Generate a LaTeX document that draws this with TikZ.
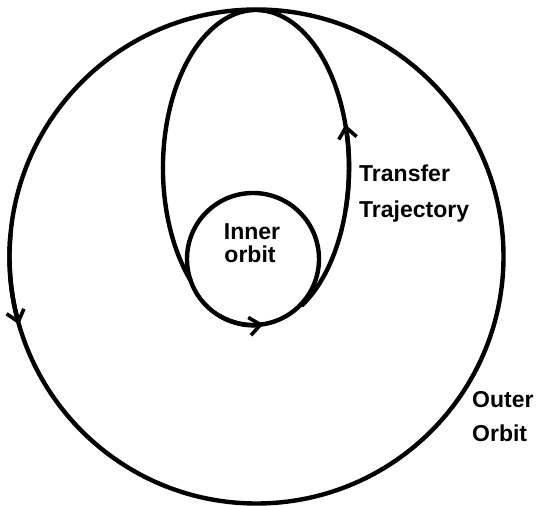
\documentclass[tikz,border=0pt]{standalone}
\usepackage{fontspec}
\setmainfont{Liberation Sans}
\usetikzlibrary{arrows.meta}
\begin{document}
\begin{tikzpicture}[x=1pt,y=1pt, line width=4.4pt, line cap=round, line join=round,
  lbl/.style={font=\bfseries\fontsize{23}{26}\selectfont, inner sep=0pt},
  tip/.style={-{Straight Barb[length=11pt,width=18pt,line width=3.6pt]}}]
\useasboundingbox (0,0) rectangle (536,506);
% outer orbit
\draw (256.5,249.5) circle[radius=247];
% inner orbit
\draw (253,247) circle[radius=66];
% transfer trajectory
\draw (302.3,201) arc[start angle=-60.1,end angle=225.1,x radius=93,y radius=158];
% direction arrows
\draw[tip] ([shift={(256.5,249.5)}]175:247) arc[start angle=175,end angle=196,radius=247];
\draw[tip] ([shift={(253,247)}]-120:66) arc[start angle=-120,end angle=-81,radius=66];
\draw[tip] ([shift={(256,338)}]-15:93 and 158) arc[start angle=-15,end angle=16,x radius=93,y radius=158];
% labels
\node[lbl, anchor=base] (inner1) at (252,266) {Inner};
\node[lbl, anchor=base] (inner2) at (250,243) {orbit};
\node[lbl, anchor=base west] (tr1) at (357,324) {Transfer};
\node[lbl, anchor=base west] (tr2) at (357,288) {Trajectory};
\node[lbl, anchor=base west] (out1) at (470,98) {Outer};
\node[lbl, anchor=base west] (out2) at (470,64) {Orbit};
\end{tikzpicture}
\end{document}
